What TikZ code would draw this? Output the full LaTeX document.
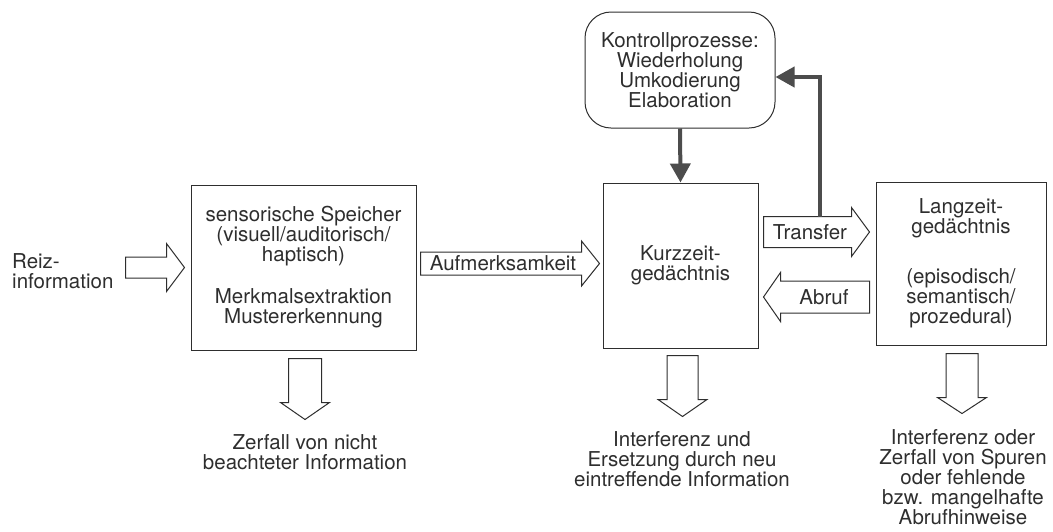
\documentclass[tikz,border=0pt]{standalone}
\usepackage{fontspec}
\setmainfont{TeX Gyre Heros}
\usepackage{xcolor}
\usepackage{tikz}
\usetikzlibrary{arrows.meta,calc}

\definecolor{ink}{gray}{0.18}
\definecolor{ctrlgray}{gray}{0.3}

% hollow block arrow: tail, tip, half shaft, half head, head length
\newcommand\hollowarrow[5]{%
  \coordinate (ha-t) at #1;
  \coordinate (ha-p) at #2;
  \coordinate (ha-h) at ($(ha-p)!#5!(ha-t)$);
  \draw[hollow] ($(ha-t)!#3!90:(ha-p)$) -- ($(ha-h)!#3!90:(ha-p)$)
    -- ($(ha-h)!#4!90:(ha-p)$) -- (ha-p) -- ($(ha-h)!#4!-90:(ha-p)$)
    -- ($(ha-h)!#3!-90:(ha-p)$) -- ($(ha-t)!#3!-90:(ha-p)$) -- cycle;}

\begin{document}
\begin{tikzpicture}[x=1pt,y=-1pt,
  font=\fontsize{20.5}{20}\selectfont, text=ink,
  store/.style={draw=ink, line width=1pt, align=center, inner sep=0pt},
  note/.style={align=center, inner sep=0pt},
  hollow/.style={draw=ink, fill=white, line width=1pt, line join=miter},
  ctrl/.style={draw=ctrlgray, line width=4pt,
    -{Triangle[width=20pt,length=19pt]}, ctrlgray}]
  \useasboundingbox (0,0) rectangle (1053,531);

  % stores
  \node[store, minimum width=225, minimum height=165] (sens) at (303.5,267.5)
    {sensorische Speicher\\(visuell/auditorisch/\\haptisch)\\[22pt]
     Merkmalsextraktion\\Mustererkennung};
  \node[store, minimum width=155, minimum height=165] (kzg) at (680.5,265.5)
    {Kurzzeit-\\gedächtnis};
  \node[store, minimum width=170, minimum height=163] (lzg) at (961,263.5)
    {Langzeit-\\gedächtnis\\[30pt](episodisch/\\semantisch/\\prozedural)};
  \node[store, rounded corners=26pt, minimum width=190, minimum height=116]
    (ktr) at (680,70)
    {Kontrollprozesse:\\Wiederholung\\Umkodierung\\Elaboration};

  \node[note, align=left, anchor=west] (reiz) at (12,271) {Reiz-\\information};

  % flow between the stores
  \coordinate (row-tr) at (0,232);
  \coordinate (row-ab) at (0,297);
  \hollowarrow{($(sens.west)+(-65,0)$)}{($(sens.west)+(-6,0)$)}{10.5pt}{24pt}{18pt}
  \hollowarrow{($(sens.east)+(4,-4)$)}{($(kzg.west)+(-3,-2)$)}{11.5pt}{22.5pt}{18pt}
  \hollowarrow{($(kzg.east |- row-tr)+(5,0)$)}{($(lzg.west |- row-tr)+(-6,0)$)}{15.5pt}{24.5pt}{18pt}
  \hollowarrow{($(lzg.west |- row-ab)+(-6,0)$)}{($(kzg.east |- row-ab)+(5,0)$)}{16pt}{24.5pt}{17pt}
  \node[note] (aufm) at (503,263.5) {Aufmerksamkeit};
  \node[note] (transfer) at (810,232) {Transfer};
  \node[note] (abruf) at (824,297) {Abruf};

  % control processes
  \draw[ctrl] (ktr.south) -- (kzg.north);
  \coordinate (tr-top) at ($(kzg.east |- row-tr)+(61,-15)$);
  \draw[ctrl] (tr-top) |- ($(ktr.east)+(0,7)$);

  % forgetting
  \hollowarrow{($(sens.south)+(1.5,8)$)}{($(sens.south)+(1.5,69)$)}{16.5pt}{24.5pt}{17pt}
  \hollowarrow{($(kzg.south)+(2,7)$)}{($(kzg.south)+(2,68)$)}{15.5pt}{24.5pt}{17pt}
  \hollowarrow{($(lzg.south)+(1,8)$)}{($(lzg.south)+(1,68)$)}{16pt}{24.5pt}{16pt}
  \node[note] (sens-loss) at ($(sens.south)+(1.5,102)$)
    {Zerfall von nicht\\beachteter Information};
  \node[note] (kzg-loss) at ($(kzg.south)+(1.5,111)$)
    {Interferenz und\\Ersetzung durch neu\\eintreffende Information};
  \node[note] (lzg-loss) at ($(lzg.south)+(2,131.5)$)
    {Interferenz oder\\Zerfall von Spuren\\oder fehlende\\bzw. mangelhafte\\Abrufhinweise};
\end{tikzpicture}
\end{document}
